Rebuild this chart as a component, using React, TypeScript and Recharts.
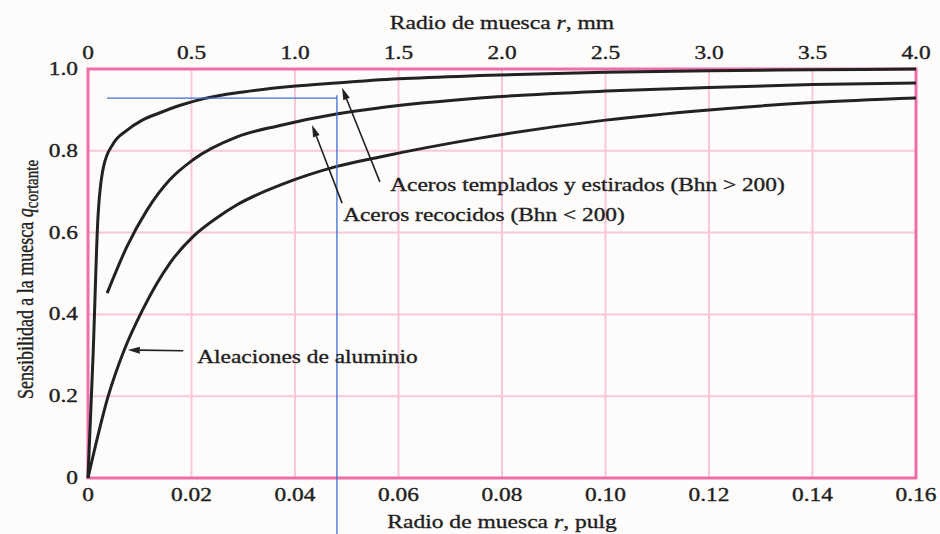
import {
  LineChart,
  Line,
  XAxis,
  YAxis,
  CartesianGrid,
  ReferenceLine,
  ReferenceDot,
  ReferenceArea,
} from 'recharts'

// radio de muesca r (pulg) and sensibilidad q for each material curve
const templadosR = [0, 0.001, 0.0019, 0.003, 0.0049, 0.0075, 0.0105, 0.0139, 0.018, 0.0222, 0.03, 0.0396, 0.048, 0.06, 0.0757, 0.1, 0.12, 0.14, 0.16]
const templadosQ = [0, 0.306, 0.631, 0.761, 0.818, 0.85, 0.875, 0.893, 0.912, 0.927, 0.944, 0.958, 0.966, 0.976, 0.984, 0.992, 0.996, 0.998, 1.0]

const recocidosR = [0.0037, 0.0075, 0.0114, 0.0158, 0.0203, 0.0288, 0.0371, 0.048, 0.0564, 0.0757, 0.1, 0.12, 0.14, 0.16]
const recocidosQ = [0.452, 0.565, 0.655, 0.729, 0.778, 0.834, 0.862, 0.89, 0.905, 0.929, 0.946, 0.955, 0.962, 0.966]

const aluminioR = [0, 0.0039, 0.007, 0.0105, 0.0158, 0.0203, 0.025, 0.0288, 0.0371, 0.0481, 0.0564, 0.0757, 0.1, 0.12, 0.14, 0.16]
const aluminioQ = [0, 0.2, 0.313, 0.41, 0.525, 0.59, 0.637, 0.668, 0.716, 0.762, 0.785, 0.831, 0.875, 0.9, 0.918, 0.929]

const pulgTicks = [0, 0.02, 0.04, 0.06, 0.08, 0.1, 0.12, 0.14, 0.16]
const mmTicks = [0, 0.5, 1.0, 1.5, 2.0, 2.5, 3.0, 3.5, 4.0]
const qTicks = [0, 0.2, 0.4, 0.6, 0.8, 1.0]

// blue reading lines (q = 0.929 at r = 0.048 pulg)
const guideQ = 0.929
const guideStartR = 0.0037
const guideR = 0.0481
const guideBottomQ = -0.137

const SERIF = "'Liberation Serif', 'Times New Roman', serif"
const INK = '#1f1f1f'
const PINK = '#ee6fa8'
const PINK_LIGHT = '#f9c6dc'
const BLUE = '#3d6fd6'

const toRows = (r: number[], q: number[]) => r.map((v, i) => ({ r: v, q: q[i] }))
// top scale only needs its own rows so the mm axis gets a domain
const mmRows = mmTicks.map((m) => ({ mm: m, q: 0 }))

function Stretch({ x, y, anchor = 'start', size = 19, sx = 1.23, children }: any) {
  return (
    <text
      transform={`translate(${x},${y}) scale(${sx},1)`}
      textAnchor={anchor}
      dominantBaseline="central"
      fontFamily={SERIF}
      fontSize={size}
      fill={INK}
      stroke={INK}
      strokeWidth={0.35}
    >
      {children}
    </text>
  )
}

const fmt = (v: number, d: number) => (v === 0 ? '0' : v.toFixed(d))

function BottomTick({ x, y, payload }: any) {
  return <Stretch x={x} y={y + 17} anchor="middle" size={18} sx={1.3}>{fmt(payload.value, 2)}</Stretch>
}

function TopTick({ x, y, payload }: any) {
  return <Stretch x={x} y={y - 16} anchor="middle" size={18} sx={1.3}>{fmt(payload.value, 1)}</Stretch>
}

function LeftTick({ x, y, payload }: any) {
  return <Stretch x={x - 10} y={y} anchor="end" size={18} sx={1.3}>{fmt(payload.value, 1)}</Stretch>
}

function ArrowShape({ x1, y1, x2, y2 }: any) {
  const ang = Math.atan2(y2 - y1, x2 - x1)
  const len = 12
  const half = 3.5
  const bx = x2 - len * Math.cos(ang)
  const by = y2 - len * Math.sin(ang)
  const px = -Math.sin(ang) * half
  const py = Math.cos(ang) * half
  return (
    <g>
      <line x1={x1} y1={y1} x2={bx} y2={by} stroke="#222" strokeWidth={1.6} />
      <polygon points={`${x2},${y2} ${bx + px},${by + py} ${bx - px},${by - py}`} fill="#222" />
    </g>
  )
}

const textAt = (label: string) => (p: any) => <Stretch x={p.cx} y={p.cy}>{label}</Stretch>

export default function App() {
  return (
    <div style={{ position: 'absolute', left: 0, top: 0, width: 940, height: 534, background: '#fdfcfb' }}>
      <LineChart width={940} height={534} margin={{ top: 29, right: 24, bottom: 26, left: 28 }}>
        <CartesianGrid stroke={PINK_LIGHT} strokeWidth={2} />
        <XAxis
          dataKey="r"
          type="number"
          domain={[0, 0.16]}
          ticks={pulgTicks}
          height={30}
          tickSize={0}
          tickMargin={0}
          axisLine={false}
          tickLine={false}
          tick={<BottomTick />}
          interval={0}
          label={{
            content: (p: any) => (
              <Stretch x={p.viewBox.x + p.viewBox.width / 2} y={p.viewBox.y + 44} anchor="middle" sx={1.24}>
                Radio de muesca <tspan fontStyle="italic">r</tspan>, pulg
              </Stretch>
            ),
          }}
        />
        <XAxis
          xAxisId="mm"
          dataKey="mm"
          orientation="top"
          type="number"
          domain={[0, 4]}
          ticks={mmTicks}
          height={40}
          tickSize={0}
          tickMargin={0}
          axisLine={false}
          tickLine={false}
          tick={<TopTick />}
          interval={0}
          label={{
            content: (p: any) => (
              <Stretch x={p.viewBox.x + p.viewBox.width / 2} y={p.viewBox.y - 6} anchor="middle" sx={1.24}>
                Radio de muesca <tspan fontStyle="italic">r</tspan>, mm
              </Stretch>
            ),
          }}
        />
        <YAxis
          type="number"
          domain={[0, 1]}
          ticks={qTicks}
          width={60}
          tickSize={0}
          tickMargin={0}
          axisLine={false}
          tickLine={false}
          tick={<LeftTick />}
          interval={0}
          label={{
            content: (p: any) => (
              <text
                transform={`translate(${p.viewBox.x - 3},${p.viewBox.y + p.viewBox.height / 2 + 6}) rotate(-90) scale(1,1.25)`}
                textAnchor="middle"
                dominantBaseline="central"
                fontFamily={SERIF}
                fontSize={18}
                fill={INK}
                stroke={INK}
                strokeWidth={0.3}
              >
                Sensibilidad a la muesca <tspan fontStyle="italic">q</tspan>
                <tspan fontSize={15} dy={5}>cortante</tspan>
              </text>
            ),
          }}
        />
        <ReferenceArea x1={0} x2={0.16} y1={0} y2={1} fill="none" stroke={PINK} strokeWidth={3} ifOverflow="visible" />

        <Line xAxisId="mm" data={mmRows} dataKey="q" stroke="none" dot={false} activeDot={false} legendType="none" isAnimationActive={false} />

        <Line data={toRows(aluminioR, aluminioQ)} dataKey="q" type="monotone" stroke="#222" strokeWidth={3} dot={false} isAnimationActive={false} />
        <Line data={toRows(recocidosR, recocidosQ)} dataKey="q" type="monotone" stroke="#222" strokeWidth={3} dot={false} isAnimationActive={false} />
        <Line data={toRows(templadosR, templadosQ)} dataKey="q" type="monotone" stroke="#222" strokeWidth={3} dot={false} isAnimationActive={false} />

        <ReferenceLine
          segment={[{ x: guideStartR, y: guideQ }, { x: guideR, y: guideQ }]}
          stroke={BLUE}
          strokeWidth={1.3}
          ifOverflow="visible"
        />
        <ReferenceLine
          segment={[{ x: guideR, y: guideQ + 0.007 }, { x: guideR, y: guideBottomQ }]}
          stroke={BLUE}
          strokeWidth={1.3}
          ifOverflow="visible"
        />

        <ReferenceLine segment={[{ x: 0.0564, y: 0.724 }, { x: 0.0491, y: 0.954 }]} shape={(p: any) => <ArrowShape {...p} />} ifOverflow="visible" />
        <ReferenceLine segment={[{ x: 0.0491, y: 0.672 }, { x: 0.0433, y: 0.863 }]} shape={(p: any) => <ArrowShape {...p} />} ifOverflow="visible" />
        <ReferenceLine segment={[{ x: 0.0184, y: 0.311 }, { x: 0.0077, y: 0.313 }]} shape={(p: any) => <ArrowShape {...p} />} ifOverflow="visible" />

        <ReferenceDot x={0.0584} y={0.716} r={1} shape={textAt('Aceros templados y estirados (Bhn > 200)')} ifOverflow="visible" />
        <ReferenceDot x={0.0493} y={0.643} r={1} shape={textAt('Aceros recocidos (Bhn < 200)')} ifOverflow="visible" />
        <ReferenceDot x={0.0211} y={0.296} r={1} shape={textAt('Aleaciones de aluminio')} ifOverflow="visible" />
      </LineChart>
    </div>
  )
}
